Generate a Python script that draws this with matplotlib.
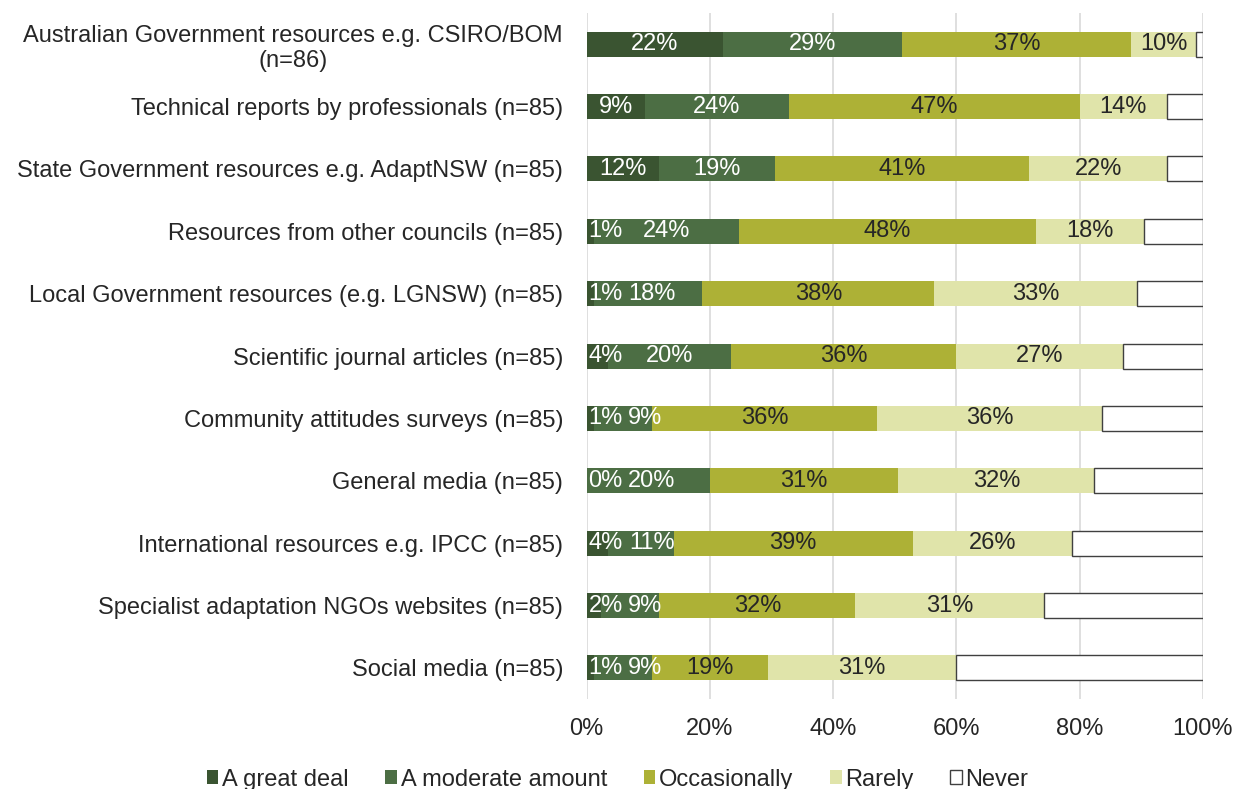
import numpy as np
import matplotlib
matplotlib.use('Agg')
import matplotlib.pyplot as plt

plt.rcParams['font.family'] = ['Liberation Sans', 'DejaVu Sans']

categories = [
    'Australian Government resources e.g. CSIRO/BOM\n(n=86)',
    'Technical reports by professionals (n=85)',
    'State Government resources e.g. AdaptNSW (n=85)',
    'Resources from other councils (n=85)',
    'Local Government resources (e.g. LGNSW) (n=85)',
    'Scientific journal articles (n=85)',
    'Community attitudes surveys (n=85)',
    'General media (n=85)',
    'International resources e.g. IPCC (n=85)',
    'Specialist adaptation NGOs websites (n=85)',
    'Social media (n=85)',
]
# percentages
great_deal = [22.1, 9.4, 11.8, 1.2, 1.2, 3.5, 1.2, 0.0, 3.5, 2.4, 1.2]
moderate = [29.1, 23.5, 18.8, 23.5, 17.6, 20.0, 9.4, 20.0, 10.6, 9.4, 9.4]
occasionally = [37.2, 47.1, 41.2, 48.2, 37.6, 36.5, 36.5, 30.6, 38.8, 31.8, 18.8]
rarely = [10.5, 14.1, 22.4, 17.6, 32.9, 27.1, 36.5, 31.8, 25.9, 30.6, 30.6]
never = [1.1, 5.9, 5.8, 9.5, 10.7, 12.9, 16.4, 17.6, 21.2, 25.8, 40.0]

series = ['A great deal', 'A moderate amount', 'Occasionally', 'Rarely', 'Never']
values = [great_deal, moderate, occasionally, rarely, never]
colors = ['#3a5431', '#4c6e44', '#adb136', '#e0e4aa', '#ffffff']
text_colors = ['white', 'white', '#262626', '#262626', None]

fig = plt.figure(figsize=(12.35, 7.89), dpi=100)
ax = fig.add_axes([0.475, 0.114, 0.499, 0.8695])

fs = 17
y = np.arange(len(categories))
left = np.zeros(len(categories))
prev_right = np.full(len(categories), -10.0)   # right edge of last label, in % units
px = 6.16   # pixels per percent, roughly
em = fs * 100 / 72
for name, vals, col, tcol in zip(series, values, colors, text_colors):
    vals = np.array(vals, dtype=float)
    ec = '#404040' if name == 'Never' else col
    lw = 1.0 if name == 'Never' else 0
    ax.barh(y, vals, left=left, height=0.4, color=col, edgecolor=ec,
            linewidth=lw, label=name, zorder=3)
    if tcol is not None:
        for i, (l, v) in enumerate(zip(left, vals)):
            lab = f'{v:.0f}%'
            w = ((len(lab) - 1) * 0.556 + 0.889) * em / px
            cx = l + v / 2
            # keep labels of thin segments from colliding, like Excel does
            cx = max(cx, w / 2 + 0.3, prev_right[i] + w / 2 + 0.9)
            ax.text(cx, y[i], lab, ha='center', va='center',
                    color=tcol, fontsize=fs, zorder=4)
            prev_right[i] = cx + w / 2
    left += vals

ax.set_xlim(0, 100)
ax.set_ylim(len(categories) - 0.5, -0.5)
ax.set_xticks(np.arange(0, 101, 20))
ax.set_xticklabels([f'{t}%' for t in range(0, 101, 20)], fontsize=fs, color='#262626')
ax.set_yticks(y)
ax.set_yticklabels(categories, fontsize=fs, color='#262626', linespacing=1.2)
for lab in ax.get_yticklabels():
    lab.set_multialignment('center')
ax.tick_params(length=0)
ax.tick_params(axis='y', pad=17)
ax.tick_params(axis='x', pad=14)
ax.grid(axis='x', color='#d9d9d9', linewidth=1.2, zorder=0)
for s in ax.spines.values():
    s.set_visible(False)

fig.legend(loc='center', bbox_to_anchor=(0.5, 0.012), ncol=5, frameon=False,
           fontsize=fs, handlelength=0.5, handleheight=0.5, handletextpad=0.15,
           columnspacing=1.55, labelcolor='#262626')

fig.savefig('out.png', dpi=100)
